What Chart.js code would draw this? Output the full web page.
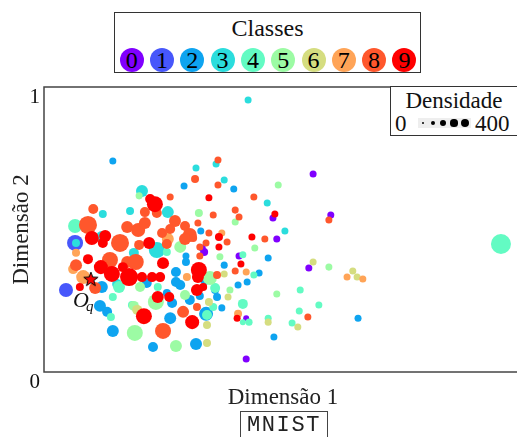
<!DOCTYPE html>
<html><head><meta charset="utf-8">
<script src="https://cdn.jsdelivr.net/npm/chart.js@4.4.0/dist/chart.umd.min.js"></script>
<style>
html,body{margin:0;padding:0;background:#fff;overflow:hidden;width:517px;height:437px;}
#wrap{position:relative;width:517px;height:437px;overflow:hidden;}
#c{position:absolute;left:0;top:0;}
.serif{font-family:"Liberation Serif","Times New Roman",serif;color:#111;}
#classes{position:absolute;left:114px;top:12px;width:305px;height:59px;border:1px solid #333;background:#fff;}
#classes .ttl{position:absolute;left:0;width:100%;top:1px;text-align:center;font-size:24px;line-height:28px;}
.cdot{position:absolute;width:24px;height:24px;border-radius:50%;text-align:center;font-family:"Liberation Serif","Times New Roman",serif;font-size:24px;line-height:25px;color:#000;}
#dens{position:absolute;left:390px;top:86px;width:140px;height:48px;border:1px solid #333;background:#fff;z-index:2;}
#dens .ttl{position:absolute;left:0;width:126px;top:1px;text-align:center;font-size:23px;line-height:26px;}
#dens .lo{position:absolute;left:4px;top:24px;font-size:23px;line-height:26px;}
#dens .hi{position:absolute;left:84px;top:24px;font-size:23px;line-height:26px;}
#dens .bar{position:absolute;left:27px;top:31px;width:53px;height:10px;background:#eee;}
.ddot{position:absolute;background:#000;border-radius:50%;}
#mnist{position:absolute;left:240px;top:411px;width:86px;height:30px;border:1px solid #444;border-bottom:none;font-family:"Liberation Mono","DejaVu Sans Mono",monospace;font-size:22px;letter-spacing:1.6px;text-align:center;line-height:27px;color:#222;}
</style></head>
<body><div id="wrap">
<canvas id="c" width="530" height="437"></canvas>
<div id="classes" class="serif"><div class="ttl">Classes</div></div>
<div id="dens" class="serif"><div class="ttl">Densidade</div><div class="lo">0</div><div class="bar"></div><div class="hi">400</div></div>
<div id="mnist">MNIST</div>
</div>
<script>
// ---- data ----
const classLabels = ['0','1','2','3','4','5','6','7','8','9'];
const classColors = ['#8000ff','#4757fb','#0ea4f0','#2bdddd','#63fbc3','#9cfba4','#d5dd80','#ffa457','#ff572c','#ff0000'];
const densityTicks = [0, 100, 200, 300, 400];
const yTickValues = [0, 1];
const queryPoint = {x: 0.098, y: 0.326};

const dimX = [0.427,0.144,0.364,0.360,0.318,0.316,0.377,0.293,0.364,0.397,0.563,0.490,0.439,0.467,0.345,0.264,0.205,0.199,0.222,0.232,
0.103,0.123,0.180,0.211,0.236,0.259,0.324,0.354,0.400,0.483,0.479,0.408,0.600,0.596,0.400,0.504,0.435,0.462,0.487,0.441,
0.956,0.563,0.554,0.596,0.646,0.634,0.655,0.667,0.536,0.487,0.575,0.534,0.552,0.657,0.519,0.531,0.469,0.469,0.429,0.416,
0.404,0.406,0.423,0.481,0.423,0.469,0.416,0.408,0.412,0.423,0.439,0.450,0.406,0.425,0.389,0.385,0.416,0.372,0.377,0.377,
0.368,0.366,0.366,0.383,0.372,0.345,0.328,0.322,0.339,0.326,0.331,0.335,0.326,0.297,0.274,0.264,0.295,0.305,0.295,0.259,
0.257,0.285,0.243,0.312,0.065,0.092,0.174,0.197,0.211,0.121,0.100,0.128,0.123,0.159,0.199,0.220,0.236,0.259,0.065,0.067,
0.067,0.092,0.138,0.119,0.142,0.174,0.192,0.178,0.249,0.067,0.061,0.082,0.107,0.075,0.046,0.121,0.157,0.144,0.205,0.226,
0.243,0.201,0.276,0.276,0.324,0.322,0.299,0.347,0.238,0.257,0.238,0.262,0.234,0.188,0.195,0.117,0.132,0.140,0.291,0.310,
0.320,0.209,0.339,0.341,0.249,0.190,0.144,0.228,0.276,0.318,0.341,0.320,0.333,0.295,0.345,0.354,0.268,0.184,0.285,0.305,
0.326,0.264,0.358,0.337,0.188,0.247,0.257,0.400,0.362,0.297,0.358,0.362,0.341,0.165,0.153,0.215];
const dimY = [0.954,0.740,0.744,0.730,0.716,0.677,0.674,0.653,0.656,0.642,0.695,0.656,0.614,0.593,0.611,0.614,0.635,0.618,0.607,0.589,
0.572,0.554,0.565,0.561,0.558,0.561,0.558,0.551,0.568,0.554,0.540,0.544,0.551,0.533,0.526,0.495,0.474,0.467,0.467,0.435,
0.449,0.386,0.365,0.368,0.354,0.333,0.333,0.326,0.288,0.274,0.235,0.214,0.193,0.189,0.172,0.158,0.175,0.189,0.175,0.175,
0.189,0.204,0.189,0.123,0.046,0.400,0.411,0.407,0.379,0.351,0.340,0.347,0.305,0.316,0.288,0.263,0.239,0.225,0.375,0.344,
0.404,0.474,0.439,0.456,0.488,0.488,0.495,0.523,0.453,0.439,0.435,0.421,0.407,0.407,0.530,0.502,0.512,0.481,0.467,0.467,
0.449,0.439,0.421,0.470,0.512,0.516,0.509,0.498,0.523,0.474,0.470,0.477,0.453,0.453,0.446,0.453,0.428,0.470,0.453,0.453,
0.418,0.396,0.393,0.368,0.344,0.386,0.386,0.333,0.382,0.375,0.361,0.333,0.295,0.298,0.288,0.298,0.298,0.263,0.333,0.333,
0.333,0.298,0.351,0.316,0.358,0.333,0.333,0.330,0.298,0.277,0.263,0.263,0.246,0.232,0.218,0.232,0.211,0.193,0.211,0.175,
0.228,0.196,0.204,0.165,0.144,0.137,0.144,0.088,0.091,0.098,0.102,0.288,0.298,0.270,0.246,0.228,0.242,0.235,0.305,0.253,
0.267,0.189,0.288,0.323,0.418,0.488,0.421,0.354,0.340,0.386,0.295,0.263,0.200,0.368,0.309,0.312];
const pointClass = [3,2,8,3,3,8,3,2,8,2,0,5,8,3,9,8,3,5,9,9,
8,3,3,8,8,3,5,8,8,9,0,8,0,8,5,3,9,8,0,5,
4,6,0,5,6,7,6,7,4,5,4,4,8,2,4,6,6,4,4,4,
9,7,0,2,0,2,4,0,9,7,4,2,2,2,5,6,4,2,2,6,
5,9,9,8,7,8,2,8,8,8,0,0,8,2,8,8,8,8,8,7,
8,5,3,8,4,8,8,8,8,3,9,9,9,8,8,9,3,6,1,3,
7,9,8,9,9,8,8,9,9,8,7,7,8,9,1,2,4,4,9,9,
9,5,2,2,9,9,7,5,4,2,9,9,5,5,6,2,2,4,8,9,
8,9,2,6,8,5,2,2,5,2,6,9,9,5,6,4,2,4,2,2,
2,2,2,2,3,8,4,8,8,2,4,2,4,9,3,2];
const pointDensity = [29,29,29,29,29,57,29,29,29,29,29,29,29,29,29,29,171,29,114,286,
114,57,57,114,114,171,57,29,29,29,29,29,29,29,29,29,29,29,29,29,
400,29,29,29,29,29,29,29,29,29,29,29,29,29,29,29,29,29,29,0,
29,57,0,29,29,29,29,29,29,29,29,29,29,29,29,29,114,29,29,29,
29,57,29,29,29,29,29,29,29,29,29,57,29,29,171,114,114,229,171,171,
114,171,57,57,229,343,171,229,171,171,229,171,114,343,114,171,286,114,286,57,
57,114,286,229,286,171,286,343,171,171,114,229,171,57,229,171,171,57,114,114,
114,114,114,114,286,171,57,229,57,57,171,114,286,114,114,171,114,57,171,229,
57,286,229,57,286,286,171,114,171,171,57,171,57,114,57,57,114,57,114,114,
57,171,57,114,114,114,57,29,57,57,114,57,114,114,114,114];

// ---- legends (HTML) ----
const clsBox = document.getElementById('classes');
classLabels.forEach((lab, i) => {
  const d = document.createElement('div');
  d.className = 'cdot';
  d.textContent = lab;
  d.style.background = classColors[i];
  d.style.left = (131.7 + 30.3 * i - 12 - 115) + 'px';
  d.style.top = (60 - 12 - 13) + 'px';
  clsBox.appendChild(d);
});
const densBox = document.getElementById('dens');
const ddX = [32, 42, 52, 63, 74];
const ddR = [1.2, 2.4, 3.1, 3.6, 4.2];
densityTicks.forEach((v, i) => {
  const r = ddR[i];
  const d = document.createElement('div');
  d.className = 'ddot';
  d.style.width = d.style.height = (2 * r) + 'px';
  d.style.left = (ddX[i] - r) + 'px';
  d.style.top = (36 - r) + 'px';
  densBox.appendChild(d);
});

// ---- star marker image ----
const star = document.createElement('canvas');
star.width = 18; star.height = 18;
(function(){
  const g = star.getContext('2d');
  g.beginPath();
  for (let k = 0; k < 10; k++) {
    const rr = k % 2 === 0 ? 7.5 : 3.1;
    const a = -Math.PI / 2 + k * Math.PI / 5;
    const px = 9 + rr * Math.cos(a), py = 9.5 + rr * Math.sin(a);
    k === 0 ? g.moveTo(px, py) : g.lineTo(px, py);
  }
  g.closePath();
  g.fillStyle = '#ff0000'; g.fill();
  g.lineWidth = 1; g.strokeStyle = '#000'; g.stroke();
})();

// ---- datasets ----
const datasets = classLabels.map((lab, c) => {
  const pts = [], rad = [];
  for (let i = 0; i < dimX.length; i++) {
    if (pointClass[i] === c) {
      pts.push({x: dimX[i], y: dimY[i]});
      rad.push(3 + 7 * pointDensity[i] / 400);
    }
  }
  return {label: lab, data: pts, pointRadius: rad, backgroundColor: classColors[c],
          borderWidth: 0, pointBorderWidth: 0, order: 9 - c};
});
datasets.push({label: 'query', data: [queryPoint], pointStyle: star, pointRadius: 9, order: -1});

const SERIF = 'Liberation Serif';

const framePlugin = {
  id: 'frame',
  beforeDatasetsDraw(chart) {
    const a = chart.chartArea, g = chart.ctx;
    g.save(); g.strokeStyle = '#444'; g.lineWidth = 1.5;
    g.strokeRect(a.left, a.top, a.right - a.left, a.bottom - a.top);
    g.restore();
  },
  afterDatasetsDraw(chart) {
    const meta = chart.getDatasetMeta(chart.data.datasets.length - 1);
    const p = meta.data[0];
    const g = chart.ctx;
    g.save(); g.fillStyle = '#111'; g.textAlign = 'center'; g.textBaseline = 'middle';
    g.font = 'italic 22px "' + SERIF + '"';
    g.fillText('O', p.x - 10, p.y + 22);
    g.font = 'italic 15px "' + SERIF + '"';
    g.fillText('q', p.x - 1, p.y + 28);
    g.restore();
  }
};

new Chart(document.getElementById('c'), {
  type: 'scatter',
  data: {datasets},
  options: {
    responsive: false, maintainAspectRatio: false, animation: false, devicePixelRatio: 1,
    events: [],
    layout: {padding: {top: 87, right: 8, left: 0, bottom: 0}, autoPadding: false},
    plugins: {legend: {display: false}, tooltip: {enabled: false}},
    scales: {
      x: {
        type: 'linear', min: 0, max: 1,
        ticks: {display: false},
        grid: {display: false, drawTicks: false},
        border: {display: false},
        title: {display: true, text: 'Dimensão 1', color: '#222', font: {family: SERIF, size: 23}, padding: {top: 0, bottom: 25}},
        afterFit(s) { s.height = 65; }
      },
      y: {
        type: 'linear', min: 0, max: 1,
        afterBuildTicks(s) { s.ticks = yTickValues.map(v => ({value: v})); },
        ticks: {font: {family: SERIF, size: 21}, color: '#111', padding: 4, labelOffset: 10, autoSkip: false},
        grid: {display: false, drawTicks: false},
        border: {display: false},
        title: {display: true, text: 'Dimensão 2', color: '#222', font: {family: SERIF, size: 23}, padding: {top: 8, bottom: 0}},
        afterFit(s) { s.width = 44; }
      }
    }
  },
  plugins: [framePlugin]
});
</script>
</body></html>
